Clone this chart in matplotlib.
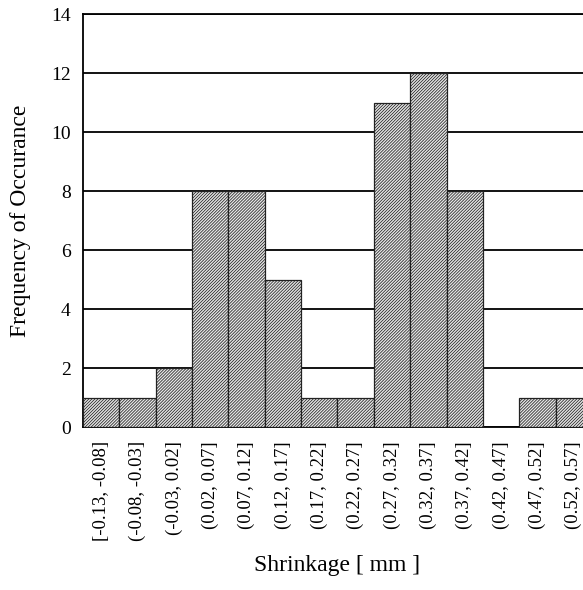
import matplotlib
matplotlib.use("Agg")
import matplotlib.pyplot as plt
import numpy as np

# bin labels and counts
bins = ["[-0.13, -0.08]", "(-0.08, -0.03]", "(-0.03, 0.02]", "(0.02, 0.07]",
        "(0.07, 0.12]", "(0.12, 0.17]", "(0.17, 0.22]", "(0.22, 0.27]",
        "(0.27, 0.32]", "(0.32, 0.37]", "(0.37, 0.42]", "(0.42, 0.47]",
        "(0.47, 0.52]", "(0.52, 0.57]"]
counts = [1, 1, 2, 8, 8, 5, 1, 1, 11, 12, 8, 0, 1, 1]

plt.rcParams['font.family'] = ['Liberation Serif', 'DejaVu Serif']
plt.rcParams['hatch.linewidth'] = 0.55
plt.rcParams['hatch.color'] = '#444444'

fig = plt.figure(figsize=(5.83, 5.90), dpi=100)
ax = fig.add_axes([0.1424, 0.276, 0.873, 0.7])

x = np.arange(len(bins))
ax.bar(x, counts, width=1.0, color='#e6e6e6', edgecolor='#222222',
       linewidth=0.9, hatch='/' * 11, zorder=3)

ax.set_xlim(-0.5, len(bins) - 0.5)
ax.set_ylim(0, 14)
ax.set_yticks(range(0, 15, 2))
ax.yaxis.grid(True, color='black', linewidth=1.3, zorder=0)
ax.set_axisbelow(True)

ax.set_xticks(x)
ax.set_xticklabels(bins, rotation=90, fontsize=13.5)
ax.tick_params(axis='x', length=0, pad=10)
ax.tick_params(axis='y', length=0, labelsize=14, pad=9)

ax.spines['right'].set_visible(False)
for side in ['left', 'bottom', 'top']:
    ax.spines[side].set_linewidth(1.3)
    ax.spines[side].set_color('black')

ax.set_ylabel('Frequency of Occurance', fontsize=17, labelpad=14)
ax.set_xlabel('Shrinkage [ mm ]', fontsize=17, labelpad=10)

fig.savefig('out.png', dpi=100)
